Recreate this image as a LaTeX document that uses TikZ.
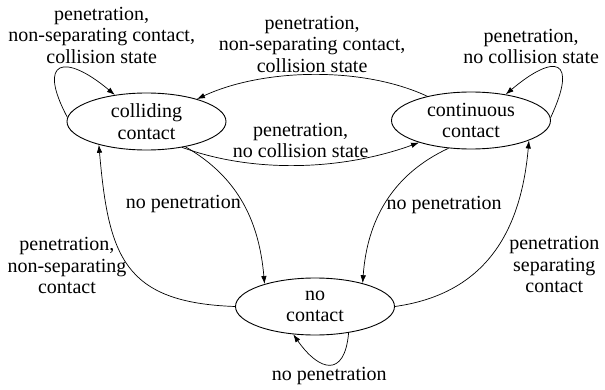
\documentclass[tikz,border=0pt]{standalone}
\usepackage{fontspec}
\setmainfont{Liberation Serif}
\usetikzlibrary{positioning}
\usetikzlibrary{shapes.geometric}
\usetikzlibrary{arrows.meta}

\tikzset{
  mode/.style={draw, ellipse, line width=0.9pt, minimum width=159pt,
    minimum height=57pt, inner sep=0pt, align=center},
  lbl/.style={align=center, inner sep=2pt},
}

\begin{document}
\begin{tikzpicture}[node distance=324.5pt, font={\fontsize{20}{21.5}\selectfont},
        >={Latex[length=8pt,width=5.5pt]}, line width=0.7pt]
      \useasboundingbox (0,0) rectangle (605pt,389pt);
      \node[mode] (C) at (146.5pt,267.5pt) {colliding\\contact};
      \node[mode] (T) [right of=C, yshift=1pt] {continuous\\contact};
      \node[mode] (N) [below of=C, node distance=185pt, xshift=168.5pt] {no\\contact};

      \path [->] (C.177) edge [out=118, in=140, looseness=3.2] node [lbl, above, xshift=41pt, yshift=3pt] {penetration,\\non-separating contact,\\collision state} (C.140)
                 (C.-36) edge [out=-20, in=200, looseness=0.85] node [lbl, above, yshift=5pt] {penetration,\\no collision state} (T.203)
                 (C.-33) edge [out=-30, in=95] node [lbl, left, pos=0.5] {no penetration} (N.156)
                 (T.151) edge [out=155, in=25, looseness=0.8] node [lbl, above] {penetration,\\non-separating contact,\\collision state} (C.24)
                 (T.2) edge [out=65, in=40, looseness=3.3] node [lbl, above, xshift=-26pt, yshift=2pt] {penetration,\\no collision state} (T.37)
                 (T.231) edge [out=205, in=86] node [lbl, right, pos=0.52] {no penetration} (N.26)
                 (N.180) edge [out=178, in=-85, looseness=1.35] node [lbl, left] {penetration,\\non-separating\\contact} (C.206)
                 (N.0) edge [out=8, in=-95, looseness=1.1] node [lbl, right, pos=0.4, xshift=28pt, yshift=4pt] {penetration\\separating\\contact} (T.-19)
                 (N.-38) edge [out=-95, in=-55, looseness=2.1] node [lbl, below] {no penetration} (N.-128);
      \end{tikzpicture}
\end{document}
